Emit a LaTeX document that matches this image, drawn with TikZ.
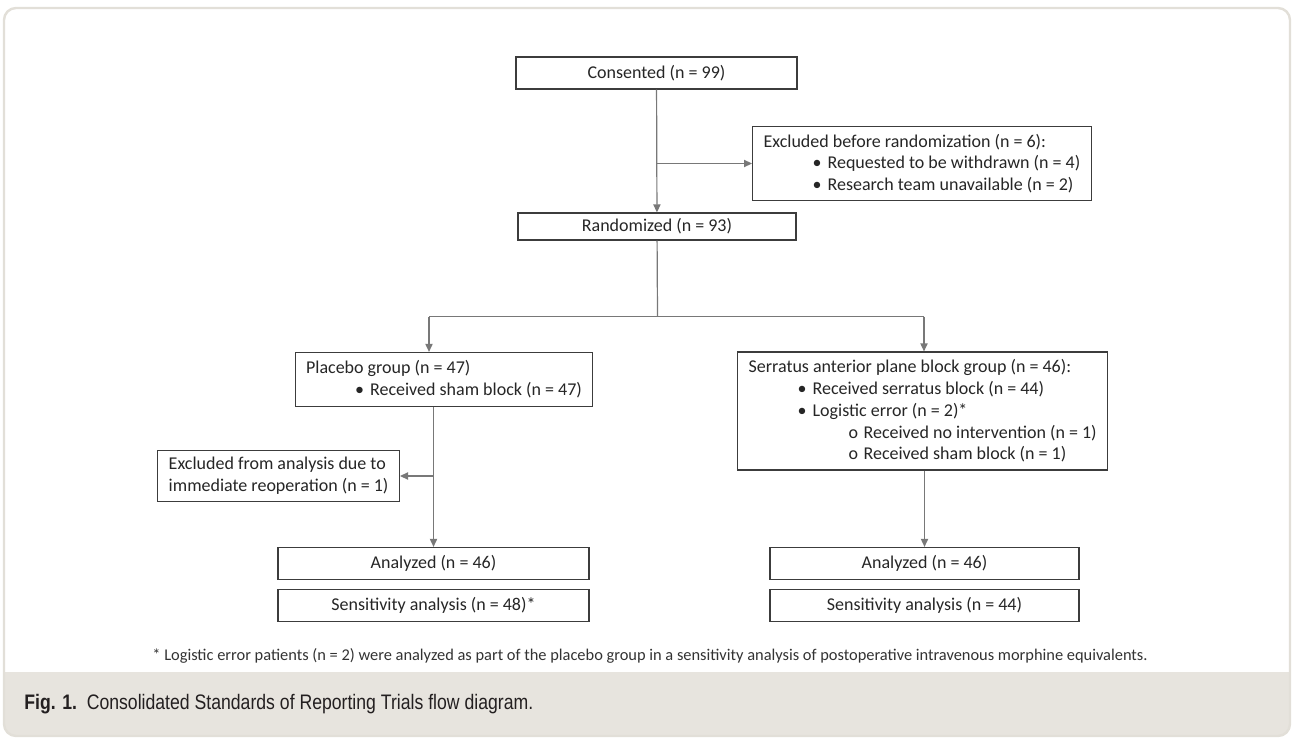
\documentclass[tikz,border=0pt]{standalone}
\usepackage{fontspec}
\setmainfont{Carlito}
\newfontfamily\capfont[FakeStretch=0.84]{Liberation Sans}
\usepackage{xcolor}
\definecolor{cslinegray}{RGB}{120,120,120}
\definecolor{csboxgray}{RGB}{60,60,60}
\definecolor{csframe}{RGB}{226,223,216}
\definecolor{csband}{RGB}{231,228,222}
\definecolor{cstext}{RGB}{35,31,32}
\usetikzlibrary{arrows.meta,positioning,calc}

% bullet lines inside the boxes
\newcommand{\blt}[1]{\hspace*{24.5pt}\makebox[7.5pt][l]{\textbullet}#1}
\newcommand{\sblt}[1]{\hspace*{50pt}\makebox[7.5pt][l]{\small o}#1}

\begin{document}
\begin{tikzpicture}[x=0.5pt, y=-0.5pt,
    box/.style={rectangle, draw=csboxgray, line width=0.6pt, fill=white,
                inner xsep=5.5pt, inner ysep=2pt, text=black!85,
                font=\fontsize{9}{10.85}\selectfont},
    cbox/.style={box, align=center},
    lbox/.style={box, align=left},
    conn/.style={draw=cslinegray, line width=0.6pt},
    arr/.style={conn, -{Triangle[length=4pt, width=3.6pt]}}
  ]
    \useasboundingbox (0,0) rectangle (1294,738);

    % Frame and caption band
    \fill[white, rounded corners=6pt] (4,8) rectangle (1290,736);
    \fill[csband] (4,672) -- (1290,672) {[rounded corners=6pt] -- (1290,736) -- (4,736)} -- cycle;
    \draw[csframe, line width=1.2pt, rounded corners=6pt] (4,8) rectangle (1290,736);

    % Enrolment
    \node[cbox, minimum width=140.5pt, minimum height=16pt] (consent) at (656.5,73) {Consented (n = 99)};
    \node[lbox, anchor=west, minimum height=37pt] (excl) at (752,163.5)
        {Excluded before randomization (n = 6):\\
         \blt{Requested to be withdrawn (n = 4)}\\
         \blt{Research team unavailable (n = 2)}};
    \node[cbox, minimum width=139pt, minimum height=13.5pt] (random) at (657,226.5) {Randomized (n = 93)};

    % Allocation
    \node[lbox, anchor=west, minimum height=27pt] (placebo) at (294.5,379.5)
        {Placebo group (n = 47)\\
         \blt{Received sham block (n = 47)}};
    \node[lbox, anchor=west, minimum height=59pt] (sapb) at (737,411)
        {Serratus anterior plane block group (n = 46):\\
         \blt{Received serratus block (n = 44)}\\
         \blt{Logistic error (n = 2)*}\\
         \sblt{Received no intervention (n = 1)}\\
         \sblt{Received sham block (n = 1)}};
    \node[lbox, anchor=east, minimum height=25.5pt] (exan) at (400,476)
        {Excluded from analysis due to\\
         immediate reoperation (n = 1)};

    % Analysis
    \node[cbox, minimum width=155.5pt, minimum height=16pt] (anL) at (433.5,563.5) {Analyzed (n = 46)};
    \node[cbox, minimum width=155.5pt, minimum height=16pt] (senL) at (433.5,605.5) {Sensitivity analysis (n = 48)*};
    \node[cbox, minimum width=154.5pt, minimum height=16pt] (anR) at (924.5,563.5) {Analyzed (n = 46)};
    \node[cbox, minimum width=154.5pt, minimum height=16pt] (senR) at (924.5,605.5) {Sensitivity analysis (n = 44)};

    % Connectors
    \draw[arr] (consent) -- (random);
    \draw[arr] (excl.west -| consent.south) -- (excl.west);
    \coordinate (split) at (657.5,316.5);
    \coordinate (splitL) at (429,316.5);
    \coordinate (splitR) at (924,316.5);
    \draw[conn] (random) -- (split);
    \draw[conn] (splitL) -- (splitR);
    \draw[arr] (splitL) -- (splitL |- placebo.north);
    \draw[arr] (splitR) -- (splitR |- sapb.north);
    \draw[arr] (placebo.south -| anL.north) -- (anL.north);
    \draw[arr] (exan.east -| anL.north) -- (exan.east);
    \draw[arr] (sapb.south -| anR.north) -- (anR.north);

    % Footnote and caption
    \node[font=\fontsize{8.2}{10}\selectfont, text=black!80] (note) at (650,656)
        {* Logistic error patients (n = 2) were analyzed as part of the placebo group in a sensitivity analysis of postoperative intravenous morphine equivalents.};
    \node[anchor=west, font=\capfont\fontsize{10.5}{12}\selectfont, text=cstext, inner sep=0pt] (cap) at (24,704)
        {\textbf{Fig. 1.}\ \ Consolidated Standards of Reporting Trials flow diagram.};
  \end{tikzpicture}
\end{document}
